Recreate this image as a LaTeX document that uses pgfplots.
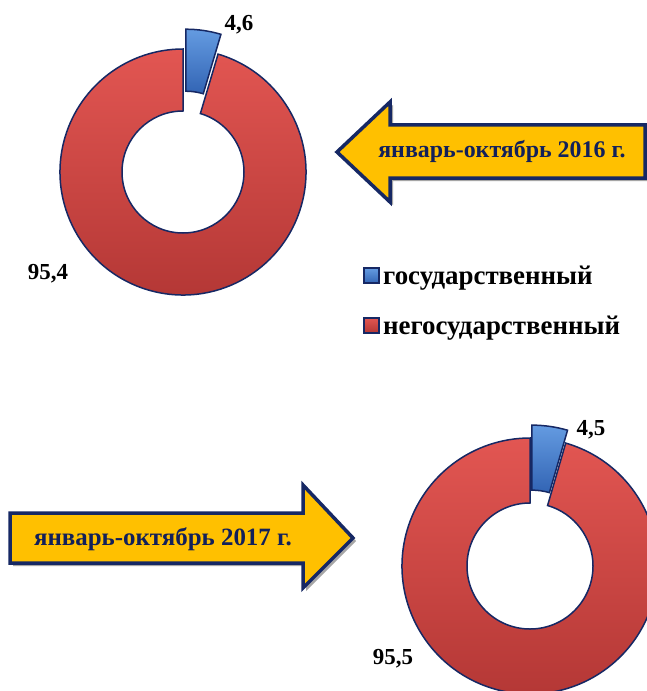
\documentclass[border=0pt]{standalone}
\usepackage{fontspec}
\setmainfont{Liberation Serif}
\usepackage{pgfplots}
\usepackage{pgfplotstable}
\pgfplotsset{compat=1.18}
\definecolor{navy}{RGB}{22,40,100}
\definecolor{ringtop}{RGB}{226,86,82}
\definecolor{ringbot}{RGB}{178,54,52}
\definecolor{bluetop}{RGB}{100,155,225}
\definecolor{bluebot}{RGB}{50,100,180}
\definecolor{gold}{RGB}{255,192,0}
\definecolor{txtnavy}{RGB}{18,32,90}

\pgfplotstableread{
category value
gos 4.6
negos 95.4
}\dataA
\pgfplotstableread{
category value
gos 4.5
negos 95.5
}\dataB

\begin{document}%
\pgfplotstablegetelem{0}{value}\of\dataA \let\gosA\pgfplotsretval%
\pgfplotstablegetelem{1}{value}\of\dataA \let\negA\pgfplotsretval%
\pgfplotstablegetelem{0}{value}\of\dataB \let\gosB\pgfplotsretval%
\pgfplotstablegetelem{1}{value}\of\dataB \let\negB\pgfplotsretval%
\pgfmathsetmacro\angA{90-3.6*\gosA}%
\pgfmathsetmacro\midA{90-1.8*\gosA}%
\pgfmathsetmacro\angB{90-3.6*\gosB}%
\pgfmathsetmacro\midB{90-1.8*\gosB}%
\begin{tikzpicture}
\begin{axis}[x=1bp, y=1bp, xmin=0, xmax=647, ymin=0, ymax=691, y dir=reverse,
  hide axis, clip=true,
  legend style={at={(axis cs:363,264)}, anchor=north west, draw=none, fill=none,
    font=\bfseries\fontsize{27}{32}\selectfont, row sep=26bp, inner sep=0pt,
    nodes={inner xsep=3.5bp}},
  legend cell align=left]
\fill[white] (rel axis cs:0,0) rectangle (rel axis cs:1,1);
\addlegendimage{legend image code/.code={\filldraw[draw=navy, line width=1.5bp, top color=bluetop, bottom color=bluebot] (0bp,-7bp) rectangle (15bp,8bp);}}
\addlegendentry{государственный}
\addlegendimage{legend image code/.code={\filldraw[draw=navy, line width=1.5bp, top color=ringtop, bottom color=ringbot] (0bp,-7bp) rectangle (15bp,8bp);}}
\addlegendentry{негосударственный}

% ---- donut 1 (2016)
\coordinate (cA) at (axis cs:183,172);
\coordinate (bA) at ([shift={(\midA:20bp)}]cA);
\filldraw[draw=navy, line width=1.5bp, top color=ringtop, bottom color=ringbot]
  ([shift={(\angA:123bp)}]cA) arc[start angle=\angA, end angle=-270, radius=123bp]
  -- ([shift={(-270:61bp)}]cA) arc[start angle=-270, end angle=\angA, radius=61bp] -- cycle;
\filldraw[draw=navy, line width=1.5bp, top color=bluetop, bottom color=bluebot]
  ([shift={(90:123bp)}]bA) arc[start angle=90, end angle=\angA, radius=123bp]
  -- ([shift={(\angA:61bp)}]bA) arc[start angle=\angA, end angle=90, radius=61bp] -- cycle;
\node[font=\bfseries\fontsize{23}{26}\selectfont] at (axis cs:239,25)
  {\pgfmathprintnumber[assume math mode=true,use comma,fixed,precision=1]{\gosA}};
\node[font=\bfseries\fontsize{23}{26}\selectfont] at (axis cs:48,274)
  {\pgfmathprintnumber[assume math mode=true,use comma,fixed,precision=1]{\negA}};

% ---- donut 2 (2017)
\coordinate (cB) at (axis cs:530,566);
\coordinate (bB) at ([shift={(\midB:13bp)}]cB);
\filldraw[draw=navy, line width=1.5bp, top color=ringtop, bottom color=ringbot]
  ([shift={(\angB:128bp)}]cB) arc[start angle=\angB, end angle=-270, radius=128bp]
  -- ([shift={(-270:63bp)}]cB) arc[start angle=-270, end angle=\angB, radius=63bp] -- cycle;
\filldraw[draw=navy, line width=1.5bp, top color=bluetop, bottom color=bluebot]
  ([shift={(90:128bp)}]bB) arc[start angle=90, end angle=\angB, radius=128bp]
  -- ([shift={(\angB:63bp)}]bB) arc[start angle=\angB, end angle=90, radius=63bp] -- cycle;
\node[font=\bfseries\fontsize{23}{26}\selectfont] at (axis cs:591,430)
  {\pgfmathprintnumber[assume math mode=true,use comma,fixed,precision=1]{\gosB}};
\node[font=\bfseries\fontsize{23}{26}\selectfont] at (axis cs:393,659)
  {\pgfmathprintnumber[assume math mode=true,use comma,fixed,precision=1]{\negB}};

% ---- arrow 1
\fill[gray!70] ([shift={(3bp,-3bp)}]axis cs:337,152) -- ([shift={(3bp,-3bp)}]axis cs:390,102) -- ([shift={(3bp,-3bp)}]axis cs:390,125) -- ([shift={(3bp,-3bp)}]axis cs:645,125) -- ([shift={(3bp,-3bp)}]axis cs:645,178) -- ([shift={(3bp,-3bp)}]axis cs:390,178) -- ([shift={(3bp,-3bp)}]axis cs:390,202) -- cycle;
\filldraw[fill=gold, draw=navy, line width=3.5bp, line join=miter]
  (axis cs:337,152) -- (axis cs:390,102) -- (axis cs:390,125) -- (axis cs:645,125)
  -- (axis cs:645,178) -- (axis cs:390,178) -- (axis cs:390,202) -- cycle;
\node[font=\bfseries\fontsize{24}{28}\selectfont, text=txtnavy] at (axis cs:502,151) {январь-октябрь 2016 г.};

% ---- arrow 2
\fill[gray!70] ([shift={(3bp,-3bp)}]axis cs:10,513) -- ([shift={(3bp,-3bp)}]axis cs:303,513) -- ([shift={(3bp,-3bp)}]axis cs:303,485) -- ([shift={(3bp,-3bp)}]axis cs:353,538) -- ([shift={(3bp,-3bp)}]axis cs:303,588) -- ([shift={(3bp,-3bp)}]axis cs:303,563) -- ([shift={(3bp,-3bp)}]axis cs:10,563) -- cycle;
\filldraw[fill=gold, draw=navy, line width=3.5bp, line join=miter]
  (axis cs:10,513) -- (axis cs:303,513) -- (axis cs:303,485) -- (axis cs:353,538)
  -- (axis cs:303,588) -- (axis cs:303,563) -- (axis cs:10,563) -- cycle;
\node[font=\bfseries\fontsize{25}{28}\selectfont, text=txtnavy] at (axis cs:163,539) {январь-октябрь 2017 г.};
\end{axis}
\pgfresetboundingbox
\path[use as bounding box] (current axis.south west) rectangle (current axis.north east);
\end{tikzpicture}%
\end{document}
